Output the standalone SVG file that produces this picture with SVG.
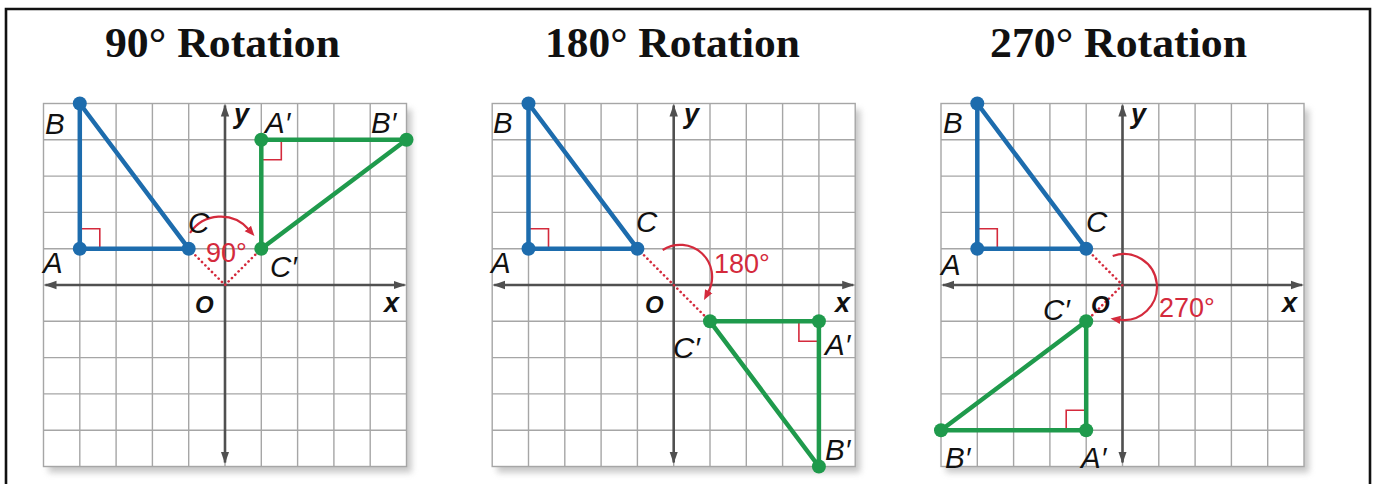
<svg xmlns="http://www.w3.org/2000/svg" width="1376" height="484" viewBox="0 0 1376 484">
<defs>
<style>
.title{font-family:"Liberation Serif","Times New Roman",serif;font-weight:bold;font-size:42px;fill:#111;text-anchor:middle}
.lbl{font-family:"Liberation Sans",Arial,sans-serif;font-style:italic;font-size:29.5px;fill:#111}
.ax{font-family:"Liberation Sans",Arial,sans-serif;font-style:italic;font-weight:bold;font-size:27px;fill:#111}
.org{font-family:"Liberation Sans",Arial,sans-serif;font-style:italic;font-weight:bold;font-size:24px;fill:#111}
.deg{font-family:"Liberation Sans",Arial,sans-serif;font-size:27px;fill:#d42a3c}
.gridline{fill:none;stroke:#a6a6a6;stroke-width:1.4}
.axis{fill:none;stroke:#505050;stroke-width:2.6;marker-start:url(#axArrow);marker-end:url(#axArrow)}
.blue{fill:none;stroke:#1d6cad;stroke-width:4.5;stroke-linejoin:round}
.green{fill:none;stroke:#1f9a4c;stroke-width:4.5;stroke-linejoin:round}
.bdot{fill:#1d6cad}
.gdot{fill:#1f9a4c}
.rt{fill:none;stroke:#d42a3c;stroke-width:1.6}
.dots{fill:none;stroke:#d42a3c;stroke-width:2.6;stroke-dasharray:0.1 4.6;stroke-linecap:round}
.arc{fill:none;stroke:#d42a3c;stroke-width:2.2;marker-end:url(#redArrow)}
</style>
<marker id="axArrow" markerUnits="userSpaceOnUse" markerWidth="13" markerHeight="10" refX="11" refY="5" orient="auto-start-reverse">
<path d="M0,0.8 L12,5 L0,9.2 Z" fill="#505050"/>
</marker>
<marker id="redArrow" markerUnits="userSpaceOnUse" markerWidth="11" markerHeight="10" refX="1" refY="5" orient="auto">
<path d="M0,0.8 L10,5 L0,9.2 Z" fill="#d42a3c"/>
</marker>
<filter id="shadow" x="-10%" y="-10%" width="130%" height="130%">
<feGaussianBlur stdDeviation="3"/>
</filter>
<g id="grid">
<rect x="5" y="6" width="363" height="363" fill="#9a9a9a" opacity="0.55" filter="url(#shadow)"/>
<rect x="0" y="0" width="363" height="363" fill="#ffffff"/>
<path class="gridline" d="M36.3,0V363M72.6,0V363M108.9,0V363M145.2,0V363M217.8,0V363M254.1,0V363M290.4,0V363M326.7,0V363M0,36.3H363M0,72.6H363M0,108.9H363M0,145.2H363M0,217.8H363M0,254.1H363M0,290.4H363M0,326.7H363"/>
<path class="gridline" d="M181.5,0V363M0,181.5H363"/>
<rect x="0" y="0" width="363" height="363" class="gridline"/>
<path class="axis" d="M2,181.5H361"/>
<path class="axis" d="M181.5,2V359"/>
</g>
</defs>

<rect x="0" y="0" width="1376" height="484" fill="#ffffff"/>
<path id="frame" d="M6,492V9H1370V492" fill="none" stroke="#111" stroke-width="2.6"/>

<g id="panel-90">
<text class="title" x="222.5" y="57" textLength="235" lengthAdjust="spacingAndGlyphs">90° Rotation</text>
<use href="#grid" x="43.5" y="103.5"/>
<g id="connectors-90">
<path class="dots" d="M188.7,248.7L225,285L261.3,248.7"/>
<path class="arc" d="M190,233A37,37 0 0 1 248.5,229.2"/>
</g>
<g id="tri-ABC-90">
<polyline class="rt" points="79.8,228.7 99.8,228.7 99.8,248.7"/>
<path class="blue" d="M79.8,103.5L79.8,248.7L188.7,248.7Z"/>
<circle class="bdot" cx="79.8" cy="103.5" r="7"/>
<circle class="bdot" cx="79.8" cy="248.7" r="7"/>
<circle class="bdot" cx="188.7" cy="248.7" r="7"/>
</g>
<g id="tri-ApBpCp-90">
<polyline class="rt" points="281.3,139.8 281.3,159.8 261.3,159.8"/>
<path class="green" d="M261.3,139.8L406.5,139.8L261.3,248.7Z"/>
<circle class="gdot" cx="261.3" cy="139.8" r="7"/>
<circle class="gdot" cx="406.5" cy="139.8" r="7"/>
<circle class="gdot" cx="261.3" cy="248.7" r="7"/>
</g>
<text class="lbl" x="45" y="134">B</text>
<text class="lbl" x="43" y="273">A</text>
<text class="lbl" x="188" y="233">C</text>
<text class="deg" x="206" y="262">90°</text>
<text class="lbl" x="270" y="277">C′</text>
<text class="lbl" x="265" y="133">A′</text>
<text class="lbl" x="371" y="133">B′</text>
<text class="ax" x="234" y="123">y</text>
<text class="org" x="195" y="313">O</text>
<text class="ax" x="384" y="312">x</text>
</g>

<g id="panel-180">
<text class="title" x="672.5" y="57" textLength="255" lengthAdjust="spacingAndGlyphs">180° Rotation</text>
<use href="#grid" x="492.2" y="103.5"/>
<g id="connectors-180">
<path class="dots" d="M637.4,248.7L707,318.3"/>
<path class="arc" d="M662.7,250A32,32 0 0 1 708.3,292"/>
</g>
<g id="tri-ABC-180">
<polyline class="rt" points="528.5,228.7 548.5,228.7 548.5,248.7"/>
<path class="blue" d="M528.5,103.5L528.5,248.7L637.4,248.7Z"/>
<circle class="bdot" cx="528.5" cy="103.5" r="7"/>
<circle class="bdot" cx="528.5" cy="248.7" r="7"/>
<circle class="bdot" cx="637.4" cy="248.7" r="7"/>
</g>
<g id="tri-ApBpCp-180">
<polyline class="rt" points="798.9,321.3 798.9,341.3 818.9,341.3"/>
<path class="green" d="M710,321.3L818.9,321.3L818.9,466.5Z"/>
<circle class="gdot" cx="710" cy="321.3" r="7"/>
<circle class="gdot" cx="818.9" cy="321.3" r="7"/>
<circle class="gdot" cx="818.9" cy="466.5" r="7"/>
</g>
<text class="lbl" x="493" y="133.3">B</text>
<text class="lbl" x="491" y="273.3">A</text>
<text class="lbl" x="636" y="231.7">C</text>
<text class="deg" x="714" y="273.3">180°</text>
<text class="ax" x="684" y="123">y</text>
<text class="org" x="645" y="313">O</text>
<text class="ax" x="835" y="312">x</text>
<text class="lbl" x="673" y="358.3">C′</text>
<text class="lbl" x="825" y="355">A′</text>
<text class="lbl" x="825" y="460">B′</text>
</g>

<g id="panel-270">
<text class="title" x="1118.5" y="57" textLength="257" lengthAdjust="spacingAndGlyphs">270° Rotation</text>
<use href="#grid" x="941" y="103.5"/>
<g id="connectors-270">
<path class="dots" d="M1086.2,248.7L1122.5,285L1086.2,321.3"/>
<path class="arc" d="M1112.7,256A33,33 0 1 1 1119.4,319.7"/>
</g>
<g id="tri-ABC-270">
<polyline class="rt" points="977.3,228.7 997.3,228.7 997.3,248.7"/>
<path class="blue" d="M977.3,103.5L977.3,248.7L1086.2,248.7Z"/>
<circle class="bdot" cx="977.3" cy="103.5" r="7"/>
<circle class="bdot" cx="977.3" cy="248.7" r="7"/>
<circle class="bdot" cx="1086.2" cy="248.7" r="7"/>
</g>
<g id="tri-ApBpCp-270">
<polyline class="rt" points="1066.2,430.2 1066.2,410.2 1086.2,410.2"/>
<path class="green" d="M1086.2,321.3L1086.2,430.2L941,430.2Z"/>
<circle class="gdot" cx="1086.2" cy="321.3" r="7"/>
<circle class="gdot" cx="1086.2" cy="430.2" r="7"/>
<circle class="gdot" cx="941" cy="430.2" r="7"/>
</g>
<text class="lbl" x="943" y="133.3">B</text>
<text class="lbl" x="941" y="275">A</text>
<text class="lbl" x="1086" y="231.7">C</text>
<text class="lbl" x="1043" y="320">C′</text>
<text class="org" x="1091" y="313.3">O</text>
<text class="deg" x="1159" y="316.7">270°</text>
<text class="ax" x="1131" y="123">y</text>
<text class="ax" x="1282" y="312">x</text>
<text class="lbl" x="945" y="468.3">B′</text>
<text class="lbl" x="1081" y="468.3">A′</text>
</g>
</svg>
